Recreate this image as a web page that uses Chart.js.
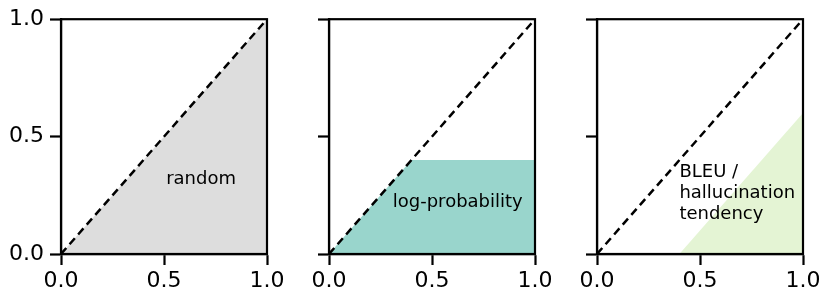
<!DOCTYPE html>
<html>
<head>
<meta charset="utf-8">
<script src="https://cdn.jsdelivr.net/npm/chart.js@4"></script>
<style>
  body { margin: 0; background: #fff; }
  #wrap { position: relative; width: 831px; height: 303px; }
  .panel { position: absolute; top: 0; width: 290px; height: 303px; }
</style>
</head>
<body>
<div id="wrap">
  <div class="panel" style="left:0px"><canvas id="c1" width="290" height="303"></canvas></div>
  <div class="panel" style="left:268px"><canvas id="c2" width="290" height="303"></canvas></div>
  <div class="panel" style="left:536px"><canvas id="c3" width="290" height="303"></canvas></div>
</div>
<script>
// ticks shared by both axes
const tickValues = [0, 0.5, 1];
const tickLabels = ['0.0', '0.5', '1.0'];

// diagonal reference line
const diagonal = [{x: 0, y: 0}, {x: 1, y: 1}];

// shaded regions (upper edge of each area)
const randomArea = [{x: 0, y: 0}, {x: 1, y: 1}];
const logprobArea = [{x: 0, y: 0}, {x: 0.4, y: 0.4}, {x: 1, y: 0.4}];
const bleuArea = [{x: 0.4, y: 0}, {x: 1, y: 0.6}];

// labels inside panels
const randomLabel = {x: 0.68, y: 0.32, lines: ['random'], align: 'center'};
const logprobLabel = {x: 0.625, y: 0.22, lines: ['log-probability'], align: 'center'};
const bleuLabel = {x: 0.4, y: 0.26, lines: ['BLEU /', 'hallucination', 'tendency'], align: 'left'};

const fontFam = "'DejaVu Sans', sans-serif";

// draws the box around the plot and the text label
const boxPlugin = {
    id: 'boxPlugin',
    afterDatasetsDraw(chart, args, opts) {
        const ctx = chart.ctx;
        const a = chart.chartArea;
        ctx.save();
        ctx.strokeStyle = '#000';
        ctx.lineWidth = 2.2;
        ctx.strokeRect(a.left, a.top, a.right - a.left, a.bottom - a.top);
        const lab = opts.label;
        if (lab) {
            const px = chart.scales.x.getPixelForValue(lab.x);
            const py = chart.scales.y.getPixelForValue(lab.y);
            ctx.fillStyle = '#000';
            ctx.font = '18px ' + fontFam;
            ctx.textAlign = lab.align;
            ctx.textBaseline = 'middle';
            const lh = 21;
            const start = py - (lab.lines.length - 1) * lh / 2;
            lab.lines.forEach((t, i) => ctx.fillText(t, px, start + i * lh));
        }
        ctx.restore();
    }
};

function makeChart(id, area, color, label, showYLabels, yAxisWidth) {
    const axisCommon = {
        type: 'linear',
        min: 0,
        max: 1,
        afterBuildTicks: function(scale) {
            scale.ticks = tickValues.map(v => ({value: v}));
        },
        grid: {
            drawOnChartArea: false,
            drawTicks: true,
            tickLength: 11,
            tickWidth: 2.2,
            tickColor: '#000'
        },
        border: { display: true, color: '#000', width: 2.2 }
    };
    return new Chart(document.getElementById(id), {
        type: 'line',
        data: {
            datasets: [
                {
                    data: diagonal,
                    borderColor: '#000',
                    borderWidth: 2.5,
                    borderDash: [8, 5],
                    pointRadius: 0,
                    fill: false
                },
                {
                    data: area,
                    borderWidth: 0,
                    borderColor: 'rgba(0,0,0,0)',
                    pointRadius: 0,
                    backgroundColor: color,
                    fill: 'origin',
                    tension: 0
                }
            ]
        },
        options: {
            responsive: false,
            animation: false,
            layout: { autoPadding: false, padding: { top: 19, right: 23, left: 0, bottom: 0 } },
            plugins: {
                legend: { display: false },
                tooltip: { enabled: false },
                boxPlugin: { label: label }
            },
            scales: {
                x: Object.assign({}, axisCommon, {
                    afterFit: function(scale) { scale.height = 49; },
                    ticks: {
                        color: '#000',
                        padding: 3,
                        font: { family: fontFam, size: 22 },
                        maxRotation: 0,
                        callback: (v, i) => tickLabels[i]
                    }
                }),
                y: Object.assign({}, axisCommon, {
                    afterFit: function(scale) { scale.width = yAxisWidth; },
                    ticks: {
                        color: '#000',
                        padding: 6,
                        font: { family: fontFam, size: 22 },
                        callback: (v, i) => showYLabels ? tickLabels[i] : ''
                    }
                })
            }
        },
        plugins: [boxPlugin]
    });
}

makeChart('c1', randomArea, '#dddddd', randomLabel, true, 61);
makeChart('c2', logprobArea, '#99d5cc', logprobLabel, false, 61);
makeChart('c3', bleuArea, '#e4f4d4', bleuLabel, false, 61);
</script>
</body>
</html>
